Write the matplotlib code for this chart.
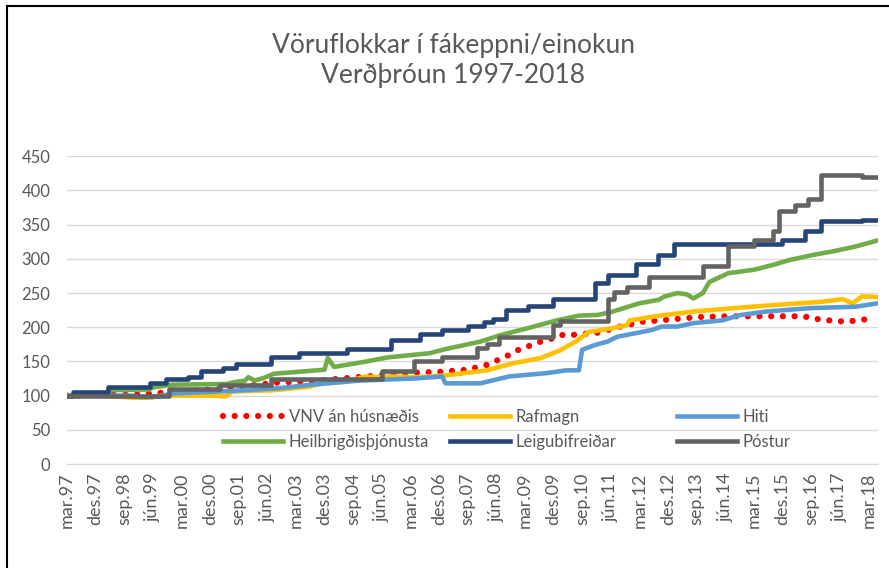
import matplotlib
matplotlib.use('Agg')
import matplotlib.pyplot as plt
from matplotlib.lines import Line2D
from matplotlib.legend import Legend

plt.rcParams['font.family'] = ['Lato', 'DejaVu Sans']

# mánuðir frá mar.97 (0) til jún.18 (255)
TICK_MONTHS = list(range(0, 253, 9))
TICK_LABELS = ['mar.97', 'des.97', 'sep.98', 'jún.99', 'mar.00', 'des.00', 'sep.01',
               'jún.02', 'mar.03', 'des.03', 'sep.04', 'jún.05', 'mar.06', 'des.06',
               'sep.07', 'jún.08', 'mar.09', 'des.09', 'sep.10', 'jún.11', 'mar.12',
               'des.12', 'sep.13', 'jún.14', 'mar.15', 'des.15', 'sep.16', 'jún.17',
               'mar.18']

# VNV án húsnæðis
vnv_m = [0, 23, 48, 66, 76, 94, 106, 118, 126, 132, 138, 142, 145, 149, 153, 156,
         160, 167, 174, 181, 189, 199, 208, 218, 229, 233, 237, 245, 252]
vnv_v = [100, 102, 110, 119, 121, 128, 133, 135, 138, 145, 157, 167, 172, 179, 184,
         189, 189, 192, 201, 208, 211, 215, 216, 216, 216, 215, 211, 208, 212]

# Rafmagn
raf_m = [0, 10, 21, 26, 30, 45, 50, 52, 65, 76, 81, 87, 94, 97, 101, 111, 120, 125,
         132, 140, 149, 155, 160, 164, 171, 176, 177, 185, 197, 210, 224, 237, 244,
         247, 250, 255]
raf_v = [100, 100, 97, 97, 100, 100, 99, 106, 108, 113, 119, 120, 128, 127, 128, 127,
         130, 133, 137, 147, 155, 166, 179, 193, 198, 203, 210, 216, 223, 228, 233,
         237, 241, 235, 245, 244]

# Hiti
hiti_m = [0, 20, 23, 27, 30, 33, 52, 67, 77, 92, 109, 118, 119, 130, 139, 151, 157,
          161, 162, 166, 170, 173, 184, 187, 192, 197, 206, 212, 220, 234, 248, 255]
hiti_v = [100, 100, 98, 98, 100, 103, 107, 111, 116, 122, 125, 128, 118, 118, 128,
          133, 137, 137, 167, 174, 179, 186, 196, 201, 201, 206, 210, 218, 223, 228,
          230, 235]

# Heilbrigðisþjónusta
heil_m = [0, 12, 14, 26, 27, 33, 50, 53, 56, 57, 59, 62, 65, 76, 81, 82, 84, 93, 101,
          114, 119, 130, 136, 146, 154, 161, 167, 171, 180, 186, 188, 192, 195, 197,
          200, 202, 208, 216, 222, 227, 235, 241, 248, 255]
heil_v = [100, 101, 108, 109, 112, 116, 117, 120, 122, 127, 122, 126, 132, 136, 138,
          155, 142, 149, 156, 162, 168, 179, 188, 200, 210, 217, 218, 222, 235, 240,
          245, 250, 248, 242, 250, 266, 279, 284, 291, 298, 306, 311, 318, 327]

# Leigubifreiðar (þrep)
leig_m = [0, 2, 13, 26, 31, 38, 42, 49, 53, 64, 73, 88, 102, 111, 118, 126, 131, 134,
          138, 145, 153, 166, 170, 179, 186, 191, 225, 232, 237, 250, 255]
leig_v = [100, 106, 112, 118, 124, 127, 136, 141, 146, 157, 163, 168, 181, 190, 196,
          202, 207, 212, 225, 231, 241, 264, 277, 292, 306, 322, 328, 340, 355, 357,
          357]

# Póstur (þrep)
post_m = [0, 32, 48, 64, 99, 109, 118, 129, 132, 136, 153, 155, 170, 172, 176, 183,
          200, 208, 216, 222, 224, 229, 233, 237, 250, 255]
post_v = [100, 109, 115, 125, 136, 150, 157, 169, 176, 186, 203, 209, 241, 252, 259,
          274, 289, 319, 328, 341, 370, 379, 387, 422, 420, 420]

fig = plt.figure(figsize=(8.89, 5.68), dpi=100)
ax = fig.add_axes([0.0754, 0.183, 0.912, 0.542])

LW = 3.3
l_vnv, = ax.plot(vnv_m, vnv_v, color='#FF0000', lw=4.5,
                 linestyle=(0, (0.001, 1.87)), dash_capstyle='round',
                 label='VNV án húsnæðis')
l_raf, = ax.plot(raf_m, raf_v, color='#FFC000', lw=LW, label='Rafmagn')
l_hiti, = ax.plot(hiti_m, hiti_v, color='#5B9BD5', lw=LW, label='Hiti')
l_heil, = ax.plot(heil_m, heil_v, color='#70AD47', lw=LW, label='Heilbrigðisþjónusta')
l_leig, = ax.plot(leig_m, leig_v, color='#264478', lw=LW, drawstyle='steps-post',
                  label='Leigubifreiðar')
l_post, = ax.plot(post_m, post_v, color='#636363', lw=LW, drawstyle='steps-post',
                  label='Póstur')

ax.set_xlim(0, 255)
ax.set_ylim(0, 450)
ax.set_yticks(range(0, 451, 50))
ax.set_xticks(TICK_MONTHS)
ax.set_xticklabels(TICK_LABELS, rotation=90)
ax.tick_params(axis='y', length=0, labelsize=12, labelcolor='#595959', pad=12)
ax.tick_params(axis='x', length=0, labelsize=13, labelcolor='#595959', pad=6)
ax.grid(axis='y', color='#D9D9D9', lw=1)
ax.set_axisbelow(True)
for s in ['top', 'right', 'left']:
    ax.spines[s].set_visible(False)
ax.spines['bottom'].set_color('#D9D9D9')

# þrír dálkar í skýringu
cols = [(l_vnv, l_heil), (l_raf, l_leig), (l_hiti, l_post)]
col_x = [0.192, 0.472, 0.752]
for (h1, h2), cx in zip(cols, col_x):
    leg = Legend(ax, [h1, h2], [h1.get_label(), h2.get_label()],
                 loc='upper left', bbox_to_anchor=(cx, 0.18),
                 ncol=1, frameon=False, fontsize=12, handlelength=3.6,
                 handletextpad=0.35, labelspacing=0.55, borderpad=0,
                 borderaxespad=0)
    for t in leg.get_texts():
        t.set_color('#595959')
    ax.add_artist(leg)

fig.text(0.51, 0.893, 'Vöruflokkar í fákeppni/einokun\nVerðþróun 1997-2018',
         ha='center', va='center', fontsize=19, color='#595959', linespacing=1.25)

# rammi efst og vinstra megin
fig.add_artist(Line2D([0.008, 1], [0.989, 0.989], color='black', lw=1.5))
fig.add_artist(Line2D([0.008, 0.008], [0, 0.989], color='black', lw=1.5))

fig.savefig('out.png', dpi=100, facecolor='white')
